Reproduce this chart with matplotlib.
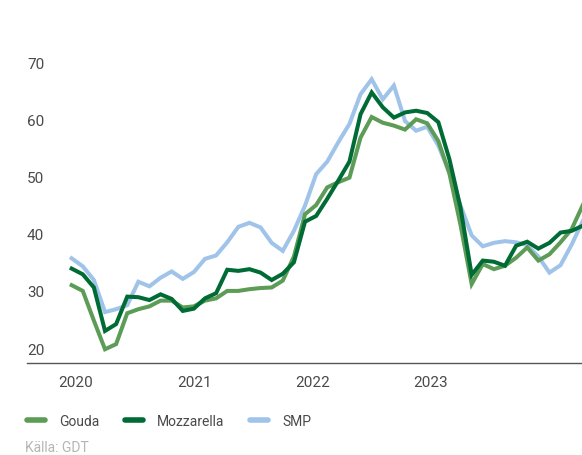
import numpy as np
import matplotlib
matplotlib.use('Agg')
import matplotlib.pyplot as plt

plt.rcParams['font.family'] = ['Roboto', 'DejaVu Sans']

gouda = [31.0, 30.0, 24.8, 19.8, 20.7, 26.1, 26.8, 27.3, 28.3, 28.3,
         27.1, 27.3, 28.3, 28.7, 30.0, 30.0, 30.3, 30.5, 30.6, 31.8,
         36.0, 43.4, 45.0, 48.1, 49.0, 49.8, 56.8, 60.4, 59.4, 58.9,
         58.2, 60.0, 59.3, 56.2, 50.5, 41.5, 31.2, 34.7, 33.8, 34.4,
         35.8, 37.6, 35.3, 36.4, 38.5, 40.8, 45.0]
mozzarella = [33.9, 32.9, 30.6, 23.0, 24.2, 29.0, 28.9, 28.4, 29.4, 28.6,
              26.5, 26.9, 28.7, 29.6, 33.7, 33.5, 33.8, 33.2, 31.9, 33.0,
              35.0, 42.1, 43.1, 46.1, 49.3, 52.6, 60.9, 64.7, 62.1, 60.3,
              61.2, 61.5, 61.1, 59.5, 53.0, 44.5, 32.8, 35.3, 35.1, 34.4,
              37.9, 38.6, 37.4, 38.4, 40.2, 40.5, 41.4]
smp = [35.7, 34.3, 31.9, 26.3, 26.8, 27.5, 31.6, 30.8, 32.3, 33.4,
       32.1, 33.3, 35.6, 36.2, 38.5, 41.2, 41.9, 41.1, 38.4, 37.0,
       40.5, 44.9, 50.4, 52.6, 56.0, 59.2, 64.4, 67.0, 63.5, 65.9,
       59.7, 58.0, 58.7, 55.4, 50.7, 44.9, 39.7, 37.8, 38.4, 38.7,
       38.5, 38.0, 36.0, 33.2, 34.5, 38.1, 42.2]
series_names = ['Gouda', 'Mozzarella', 'SMP']
years = ['2020', '2021', '2022', '2023']
yticks = [20, 30, 40, 50, 60, 70]

colors = ['#5c9c56', '#006b35', '#9fc3e9']
x = np.arange(len(gouda))
year_pos = [0.37, 11.05, 21.67, 32.32]

fig = plt.figure(figsize=(5.82, 4.56), dpi=100)
ax = fig.add_axes([0.0464, 0.2018, 0.9536, 0.71])

ax.plot(x, smp, color=colors[2], linewidth=2.9, solid_joinstyle='miter', zorder=2)
ax.plot(x, gouda, color=colors[0], linewidth=2.9, solid_joinstyle='miter', zorder=3)
ax.plot(x, mozzarella, color=colors[1], linewidth=2.9, solid_joinstyle='miter', zorder=4)

ax.set_xlim(-4.02, 45.93)
ax.set_ylim(17.4, 74)

for s in ['top', 'right', 'left']:
    ax.spines[s].set_visible(False)
ax.spines['bottom'].set_color('#555555')
ax.spines['bottom'].set_linewidth(1.0)

ax.set_yticks(yticks)
ax.set_yticklabels([str(v) for v in yticks])
ax.tick_params(axis='y', length=0, pad=0, labelsize=11, labelcolor='#4a4a4a')
for lab in ax.get_yticklabels():
    lab.set_horizontalalignment('left')

ax.set_xticks(year_pos)
ax.set_xticklabels(years)
ax.tick_params(axis='x', length=0, pad=9, labelsize=11, labelcolor='#4a4a4a')

handles = [plt.Line2D([], [], color=c, linewidth=4, solid_capstyle='round') for c in colors]
fig.legend(handles, series_names, loc='center left', bbox_to_anchor=(0.046, 0.0746),
           ncol=3, frameon=False, fontsize=10, handlelength=1.3, handletextpad=1.05,
           columnspacing=1.8, borderaxespad=0, borderpad=0, labelcolor='#4a4a4a')

fig.text(0.043, 0.003, 'Källa: GDT', fontsize=10, color='#b5b5b5', ha='left', va='bottom')

fig.savefig('out.png', dpi=100)
